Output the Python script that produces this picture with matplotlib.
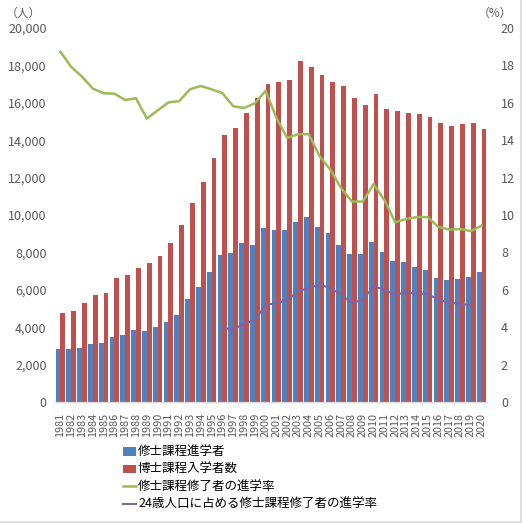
import matplotlib
matplotlib.use("Agg")
import matplotlib.pyplot as plt
from matplotlib.lines import Line2D
import numpy as np

plt.rcParams['font.family'] = ['Noto Sans CJK JP', 'DejaVu Sans']

years = list(range(1981, 2021))
# 修士課程進学者 (人)
master_adv = [2850, 2820, 2900, 3080, 3170, 3480, 3600, 3850, 3810, 4010,
              4300, 4670, 5490, 6170, 6970, 7880, 7970, 8490, 8410, 9300,
              9180, 9220, 9640, 9890, 9340, 9060, 8410, 7910, 7930, 8540,
              8040, 7560, 7470, 7240, 7060, 6650, 6540, 6600, 6700, 6930]
# 博士課程入学者数 (人)
doctor_in = [4740, 4880, 5290, 5740, 5850, 6630, 6810, 7150, 7450, 7790,
             8490, 9470, 10660, 11790, 13030, 14300, 14660, 15450, 16240, 16990,
             17120, 17200, 18230, 17920, 17510, 17120, 16880, 16250, 15860, 16450,
             15650, 15540, 15430, 15380, 15250, 14930, 14750, 14860, 14930, 14620]
# 修士課程修了者の進学率 (%)
rate_master = [18.73, 17.92, 17.40, 16.76, 16.51, 16.49, 16.15, 16.24, 15.16, 15.59,
               16.02, 16.09, 16.72, 16.90, 16.72, 16.52, 15.82, 15.72, 15.97, 16.64,
               15.20, 14.12, 14.32, 14.32, 13.14, 12.42, 11.43, 10.72, 10.72, 11.65,
               10.80, 9.61, 9.79, 9.89, 9.89, 9.36, 9.22, 9.25, 9.14, 9.43]
# 24歳人口に占める修士課程修了者の進学率 (%), 1996-2019
rate_pop_years = list(range(1996, 2020))
rate_pop = [3.97, 3.87, 4.19, 4.37, 5.19, 5.29, 5.44, 5.92, 6.10, 6.27,
            6.10, 5.74, 5.29, 5.47, 6.19, 6.01, 5.74, 5.86, 5.79, 5.78,
            5.47, 5.33, 5.24, 5.19]

labels = ['修士課程進学者', '博士課程入学者数', '修士課程修了者の進学率',
          '24歳人口に占める修士課程修了者の進学率']

gray = '#595959'
fig = plt.figure(figsize=(5.22, 5.23), dpi=100)
ax = fig.add_axes([55/522, 121/523, 432/522, 374/523])
ax2 = ax.twinx()

x = np.arange(len(years))
w = 0.44
b1 = ax.bar(x - w/2, master_adv, w, color='#4F81BD', label=labels[0])
b2 = ax.bar(x + w/2, doctor_in, w, color='#C0504D', label=labels[1])

xp = [years.index(y) for y in rate_pop_years]
l1, = ax2.plot(x, rate_master, color='#9BBB59', lw=1.8, label=labels[2])
l2, = ax2.plot(xp, rate_pop, color='#8064A2', lw=1.5, label=labels[3])

ax.set_xlim(-0.5, len(years) - 0.5)
ax.set_ylim(0, 20000)
ax2.set_ylim(0, 20)
ax.set_yticks(range(0, 20001, 2000))
ax.set_yticklabels([f'{v:,}' for v in range(0, 20001, 2000)])
ax2.set_yticks(range(0, 21, 2))
ax.set_xticks(x)
ax.set_xticklabels([str(y) for y in years], rotation=90, fontsize=7.8, color=gray)

for a in (ax, ax2):
    for s in ('top', 'left', 'right'):
        a.spines[s].set_visible(False)
    a.spines['bottom'].set_color('#d9d9d9')
    a.tick_params(axis='y', length=0, labelsize=9, labelcolor=gray, pad=6)
ax.tick_params(axis='x', length=0, pad=8)
ax2.tick_params(axis='y', pad=10)

fig.text(6/522, 1 - 17/523, '（人）', fontsize=8.5, color=gray)
fig.text(478/522, 1 - 17/523, '（%）', fontsize=8.5, color=gray)

fig.legend([b1, b2, l1, l2], labels, loc='upper left',
           bbox_to_anchor=(118/522, 1 - 441/523), frameon=False,
           fontsize=9, handlelength=1.0, handletextpad=0.2,
           labelspacing=0.35, borderaxespad=0)

# light frame on the right and bottom edges
fig.add_artist(Line2D([0, 1], [0.002, 0.002], transform=fig.transFigure,
                      color='#d9d9d9', lw=1.2))
fig.add_artist(Line2D([0.998, 0.998], [0, 1], transform=fig.transFigure,
                      color='#d9d9d9', lw=1.2))

fig.savefig('out.png', dpi=100)
